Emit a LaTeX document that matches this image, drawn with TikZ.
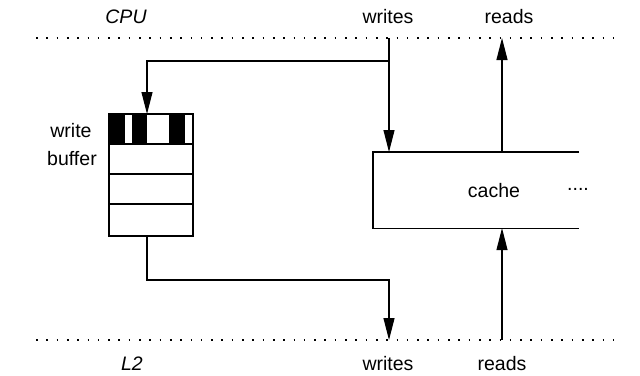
\documentclass[tikz,border=0pt]{standalone}
\usepackage{fontspec}
\setmainfont{Liberation Sans}
\usetikzlibrary{arrows.meta}
\begin{document}
\begin{tikzpicture}[x=1bp,y=-1bp,
  line width=1.1bp,
  font=\fontsize{19.5bp}{23bp}\selectfont,
  conn/.style={draw, -{Triangle[length=22bp,width=11bp]}},
  level/.style={draw, line width=1.3bp, dash pattern=on 1.6bp off 8.7bp},
  lbl/.style={anchor=base, inner sep=0pt},
  stripe/.style={fill=black, draw=none}]
  \useasboundingbox (0,0) rectangle (640,375);

  % level boundaries
  \coordinate (topL) at (36,38);
  \coordinate (topR) at (614,38);
  \coordinate (botL) at (36,340);
  \coordinate (botR) at (614,340);
  \draw[level] (topL) -- (topR);
  \draw[level] (botL) -- (botR);

  % labels of the levels
  \node[lbl] (cpu) at (126,23) {\itshape CPU};
  \node[lbl] (cpuwrites) at (388,23) {writes};
  \node[lbl] (cpureads) at (509,23) {reads};
  \node[lbl] (l2) at (132,370) {\itshape L2};
  \node[lbl] (l2writes) at (388,370) {writes};
  \node[lbl] (l2reads) at (502,370) {reads};

  % write buffer
  \node[draw, minimum width=83bp, minimum height=121bp, inner sep=0pt, anchor=north west]
    (buf) at (109,114) {};
  \fill[stripe] (109,114) rectangle (125,144);
  \fill[stripe] (132,114) rectangle (147,144);
  \fill[stripe] (169,114) rectangle (185,144);
  \draw (buf.north west) rectangle (buf.south east);
  \draw (109,144) -- (192,144);
  \draw (109,174) -- (192,174);
  \draw (109,204) -- (192,204);
  \node[lbl] (bufa) at (71,137) {write};
  \node[lbl] (bufb) at (72,165) {buffer};

  % cache, open on the right
  \node[minimum width=205bp, minimum height=75bp, inner sep=0pt, anchor=north west]
    (cache) at (373,152) {};
  \draw (cache.north east) -- (cache.north west) -- (cache.south west) -- (cache.south east);
  \node[lbl] (cachetxt) at (494,197) {cache};
  \node[lbl] (more) at (578,190) {....};

  % write path from the CPU
  \coordinate (wsrc) at (389,38);
  \coordinate (wbr) at (389,61);
  \coordinate (bufin) at (147,114);
  \coordinate (bufout) at (147,235);
  \coordinate (wdst) at (389,340);
  \draw[conn] (wsrc) -- (wsrc |- cache.north);
  \draw[conn] (wbr) -| (bufin);
  \draw[conn] (bufout) |- (268,280) -| (wdst);

  % read paths
  \coordinate (rcpu) at (502,38);
  \coordinate (rl2) at (502,340);
  \draw[conn] (rcpu |- cache.north) -- (rcpu);
  \draw[conn] (rl2) -- (rl2 |- cache.south);
\end{tikzpicture}
\end{document}
